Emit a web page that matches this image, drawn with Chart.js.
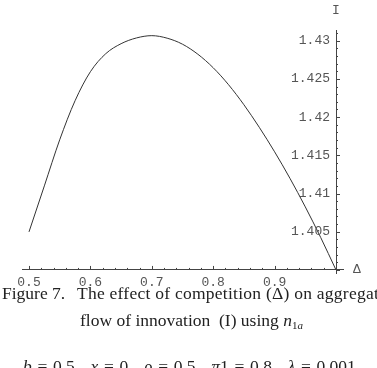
<!DOCTYPE html>
<html>
<head>
<meta charset="utf-8">
<script src="https://cdn.jsdelivr.net/npm/chart.js@4/dist/chart.umd.min.js"></script>
<style>
  body { margin: 0; background: #fff; }
  #wrap { position: relative; width: 377px; height: 368px; overflow: hidden; }
  #chart { position: absolute; left: 0; top: 0; }
  .cap { position: absolute; font-family: "Liberation Serif", serif; font-size: 17.5px; color: #222; white-space: nowrap; }
  .cap i { font-style: italic; }
  .cap sub { font-size: 11px; vertical-align: -3px; }
</style>
</head>
<body>
<div id="wrap">
  <canvas id="chart" width="377" height="368"></canvas>
  <div class="cap" style="left:2px; top:283px;">Figure 7.</div>
  <div class="cap" style="left:77px; top:283px; letter-spacing:0.25px;">The effect of competition (Δ) on aggregat</div>
  <div class="cap" style="left:80px; top:310px;">flow of innovation&nbsp;&nbsp;(I) using <i>n</i><sub>1<i>a</i></sub></div>
  <div class="cap" style="left:23px; top:356px; word-spacing:1.3px;"><i>b</i> = 0.5, &nbsp;<i>x</i> = 0, &nbsp;<i>ρ</i> = 0.5, &nbsp;<i>π</i>1 = 0.8, &nbsp;<i>λ</i> = 0.001</div>
</div>
<script>
// competition Delta vs flow of innovation I
const delta = [0.5, 0.525, 0.55, 0.575, 0.6, 0.625, 0.65, 0.675, 0.7, 0.725, 0.75,
  0.775, 0.8, 0.825, 0.85, 0.875, 0.9, 0.925, 0.95, 0.975, 1.0];
const innovation = [1.40498, 1.41100, 1.41703, 1.42214, 1.42594, 1.42830, 1.42961, 1.43036,
  1.43066, 1.43033, 1.42954, 1.42823, 1.42646, 1.42424, 1.42162, 1.41867, 1.41546,
  1.41199, 1.40825, 1.40426, 1.40000];

const xTicks = [0.5, 0.6, 0.7, 0.8, 0.9];
const yTicks = [1.405, 1.41, 1.415, 1.42, 1.425, 1.43];
const xMinor = 0.02;
const yMinor = 0.001;

// Mathematica style axes: ticks point into the plot, labels drawn by hand
const axisDecor = {
  id: "axisDecor",
  afterDraw(chart) {
    const { ctx, scales: { x, y } } = chart;
    const y0 = y.getPixelForValue(1.4);
    const x0 = x.getPixelForValue(1.0);
    ctx.save();
    ctx.strokeStyle = "#444";
    ctx.lineWidth = 1;
    ctx.beginPath();
    for (let i = 0; i <= 25; i++) {
      const px = Math.round(x.getPixelForValue(0.5 + i * xMinor)) + 0.5;
      const len = i % 5 === 0 ? 4 : 2;
      ctx.moveTo(px, y0);
      ctx.lineTo(px, y0 - len);
    }
    for (let i = 0; i <= 31; i++) {
      const py = Math.round(y.getPixelForValue(1.4 + i * yMinor)) + 0.5;
      const len = i % 5 === 0 ? 4 : 2;
      ctx.moveTo(x0, py);
      ctx.lineTo(x0 + len, py);
    }
    ctx.stroke();

    ctx.fillStyle = "#555";
    ctx.font = "13px 'Liberation Mono', monospace";
    ctx.textBaseline = "middle";
    ctx.textAlign = "center";
    xTicks.forEach(v => ctx.fillText(String(v), x.getPixelForValue(v), y0 + 13));
    ctx.textAlign = "right";
    yTicks.forEach(v => ctx.fillText(String(v), x0 - 6, y.getPixelForValue(v)));

    ctx.textAlign = "center";
    ctx.fillText("I", x0, 11);
    ctx.fillText("Δ", x.right + 14, y0);
    ctx.restore();
  },
};

new Chart(document.getElementById("chart"), {
  type: "line",
  data: {
    datasets: [
      {
        data: delta.map((d, i) => ({ x: d, y: innovation[i] })),
        borderColor: "#333",
        borderWidth: 1,
        pointRadius: 0,
        fill: false,
        cubicInterpolationMode: "monotone",
      },
    ],
  },
  options: {
    responsive: false,
    animation: false,
    layout: { padding: { left: 22, right: 34, top: 30, bottom: 95 } },
    plugins: { legend: { display: false }, tooltip: { enabled: false } },
    scales: {
      x: {
        type: "linear",
        min: 0.4886,
        max: 1.0114,
        position: { y: 1.4 },
        grid: { display: false, drawTicks: false },
        border: { display: true, color: "#444", width: 1 },
        ticks: { display: false },
      },
      y: {
        type: "linear",
        min: 1.3996,
        max: 1.4314,
        position: { x: 1.0 },
        grid: { display: false, drawTicks: false },
        border: { display: true, color: "#444", width: 1 },
        ticks: { display: false },
      },
    },
  },
  plugins: [axisDecor],
});
</script>
</body>
</html>
